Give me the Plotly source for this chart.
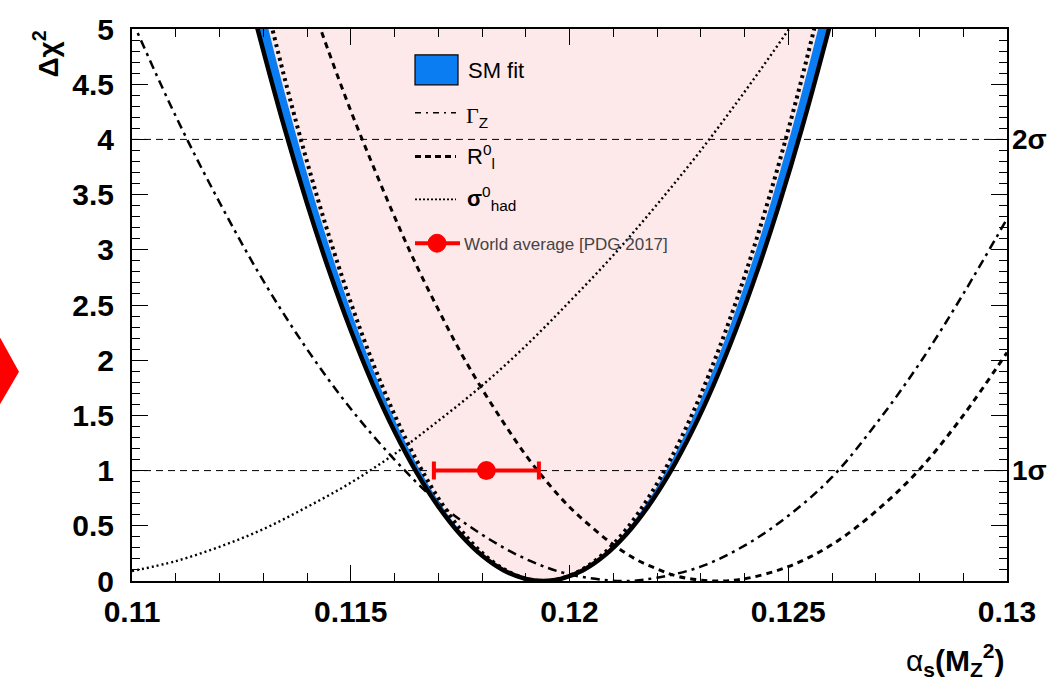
import plotly.graph_objects as go

# ---------------- data ----------------
sm_x = [0.1127, 0.1129, 0.1135, 0.1140, 0.1145, 0.1150, 0.1155, 0.1160, 0.1165, 0.1170,
        0.1175, 0.1180, 0.1185, 0.1190, 0.1194, 0.1198, 0.1203, 0.1208, 0.1213, 0.1218,
        0.1223, 0.1228, 0.1233, 0.1238, 0.1243, 0.1248, 0.1253, 0.1259, 0.1261]
sm_outer = [5.265, 4.955, 4.083, 3.420, 2.816, 2.271, 1.784, 1.356, 0.986, 0.676,
            0.423, 0.230, 0.095, 0.019, 0.0, 0.019, 0.095, 0.230, 0.423, 0.676,
            0.986, 1.356, 1.784, 2.271, 2.816, 3.420, 4.083, 4.955, 5.265]
sm_inner = [5.685, 5.351, 4.408, 3.693, 3.041, 2.452, 1.926, 1.464, 1.065, 0.729,
            0.457, 0.248, 0.103, 0.020, 0.0, 0.020, 0.103, 0.248, 0.457, 0.729,
            1.065, 1.464, 1.926, 2.452, 3.041, 3.693, 4.408, 5.351, 5.685]
sm_dotted = [5.850, 5.506, 4.537, 3.800, 3.129, 2.523, 1.982, 1.507, 1.096, 0.751,
             0.470, 0.255, 0.106, 0.021, 0.0, 0.021, 0.106, 0.255, 0.470, 0.751,
             1.096, 1.507, 1.982, 2.523, 3.129, 3.800, 4.537, 5.506, 5.850]

gz_x = [0.1100, 0.1110, 0.1120, 0.1130, 0.1140, 0.1150, 0.1160, 0.1170, 0.1180, 0.1190,
        0.1200, 0.1212, 0.1220, 0.1230, 0.1240, 0.1250, 0.1260, 0.1270, 0.1280, 0.1290, 0.1300]
gz_chi2 = [5.08, 4.21, 3.43, 2.72, 2.10, 1.56, 1.10, 0.71, 0.42, 0.20,
           0.06, 0.0, 0.03, 0.13, 0.32, 0.59, 0.94, 1.42, 1.97, 2.60, 3.28]

rl_x = [0.1140, 0.1145, 0.1150, 0.1155, 0.1160, 0.1165, 0.1170, 0.1175, 0.1180, 0.1185,
        0.1190, 0.1195, 0.1200, 0.1205, 0.1210, 0.1215, 0.1220, 0.1225, 0.1233, 0.1240,
        0.1250, 0.1260, 0.1270, 0.1280, 0.1290, 0.1300]
rl_chi2 = [5.35, 4.79, 4.26, 3.77, 3.30, 2.86, 2.46, 2.08, 1.74, 1.43,
           1.14, 0.89, 0.67, 0.49, 0.33, 0.20, 0.11, 0.04, 0.0, 0.02,
           0.13, 0.33, 0.63, 1.01, 1.50, 2.07]

sh_x = [0.1100, 0.1110, 0.1120, 0.1130, 0.1140, 0.1150, 0.1160, 0.1170, 0.1180, 0.1190,
        0.1200, 0.1210, 0.1220, 0.1230, 0.1240, 0.1250, 0.1260]
sh_chi2 = [0.09, 0.18, 0.31, 0.47, 0.67, 0.89, 1.15, 1.45, 1.77, 2.13,
           2.53, 2.95, 3.41, 3.90, 4.43, 4.99, 5.58]

wa_x = [0.1181]
wa_y = [1.0]
wa_err = [0.0012]

sigma_levels = [1, 4]
sigma_labels = ["1σ", "2σ"]

x_range = [0.11, 0.13]
y_range = [0, 5]

# ---------------- layout helpers (pixel -> paper) ----------------
ML, MR, MT, MB = 132, 45, 27, 102
W, H = 1052, 683
PW, PH = W - ML - MR, H - MT - MB


def fx(px):
    return (px - ML) / PW


def fy(py):
    return (H - MB - py) / PH


BLUE = "#0a7df2"
PINK = "#fde9e9"
FONT = "Liberation Sans"

fig = go.Figure()

# pink region inside SM parabola
fig.add_trace(go.Scatter(x=sm_x, y=sm_outer, mode="lines", fill="toself",
                         fillcolor=PINK, line=dict(width=0), hoverinfo="skip",
                         showlegend=False))

# sigma reference lines
for lvl in sigma_levels:
    fig.add_trace(go.Scatter(x=x_range, y=[lvl, lvl], mode="lines",
                             line=dict(color="black", width=1, dash="7px,5px"),
                             showlegend=False, hoverinfo="skip"))

# individual observables
fig.add_trace(go.Scatter(x=sh_x, y=sh_chi2, mode="lines", line_shape="spline",
                         line=dict(color="black", width=2.4, dash="2px,3px"),
                         showlegend=False))
fig.add_trace(go.Scatter(x=gz_x, y=gz_chi2, mode="lines", line_shape="spline",
                         line=dict(color="black", width=2.5, dash="9px,5px,3px,5px"),
                         showlegend=False))
fig.add_trace(go.Scatter(x=rl_x, y=rl_chi2, mode="lines", line_shape="spline",
                         line=dict(color="black", width=3, dash="6px,5px"),
                         showlegend=False))

# SM fit band
band_x = sm_x + sm_x[::-1]
band_y = sm_outer + sm_inner[::-1]
fig.add_trace(go.Scatter(x=band_x, y=band_y, mode="lines", fill="toself",
                         fillcolor=BLUE, line=dict(width=0, shape="spline"),
                         hoverinfo="skip", showlegend=False))
fig.add_trace(go.Scatter(x=sm_x, y=sm_dotted, mode="lines", line_shape="spline",
                         line=dict(color="black", width=4, dash="3px,4px"),
                         showlegend=False))
fig.add_trace(go.Scatter(x=sm_x, y=sm_outer, mode="lines", line_shape="spline",
                         line=dict(color="black", width=4.5), showlegend=False))

# world average
fig.add_trace(go.Scatter(x=wa_x, y=wa_y, mode="markers",
                         marker=dict(color="red", size=19),
                         error_x=dict(type="data", array=wa_err, color="red",
                                      thickness=4, width=9),
                         showlegend=False))

shapes = []
annotations = []

# legend (custom)
shapes.append(dict(type="rect", xref="paper", yref="paper",
                   x0=fx(415), x1=fx(458), y0=fy(83), y1=fy(53),
                   fillcolor=BLUE, line=dict(color="black", width=1.2)))
shapes.append(dict(type="line", xref="paper", yref="paper",
                   x0=fx(415), x1=fx(456), y0=fy(111), y1=fy(111),
                   line=dict(color="black", width=1.5, dash="6px,5px,2px,5px")))
shapes.append(dict(type="line", xref="paper", yref="paper",
                   x0=fx(415), x1=fx(456), y0=fy(155), y1=fy(155),
                   line=dict(color="black", width=3, dash="6px,4px")))
shapes.append(dict(type="line", xref="paper", yref="paper",
                   x0=fx(415), x1=fx(456), y0=fy(198), y1=fy(198),
                   line=dict(color="black", width=1.8, dash="2px,2px")))
shapes.append(dict(type="line", xref="paper", yref="paper",
                   x0=fx(415), x1=fx(460), y0=fy(242), y1=fy(242),
                   line=dict(color="red", width=4)))
shapes.append(dict(type="circle", xref="paper", yref="paper",
                   x0=fx(428), x1=fx(446), y0=fy(251), y1=fy(233),
                   fillcolor="red", line=dict(color="red", width=1)))

annotations += [
    dict(text="SM fit", x=fx(466), y=fy(69), xref="paper", yref="paper",
         xanchor="left", yanchor="middle", showarrow=False,
         font=dict(family=FONT, size=22, color="black")),
    dict(text="<span style='font-family:Liberation Serif'>Γ</span><sub>Z</sub>",
         x=fx(464), y=fy(115), xref="paper", yref="paper",
         xanchor="left", yanchor="middle", showarrow=False,
         font=dict(family=FONT, size=22, color="black")),
    dict(text="R<sup>0</sup><sub>l</sub>", x=fx(465), y=fy(155), xref="paper", yref="paper",
         xanchor="left", yanchor="middle", showarrow=False,
         font=dict(family=FONT, size=22, color="black")),
    dict(text="<b>σ</b><sup>0</sup><sub>had</sub>", x=fx(465), y=fy(197), xref="paper",
         yref="paper", xanchor="left", yanchor="middle", showarrow=False,
         font=dict(family=FONT, size=22, color="black")),
    dict(text="World average [PDG 2017]", x=fx(462), y=fy(243), xref="paper",
         yref="paper", xanchor="left", yanchor="middle", showarrow=False,
         font=dict(family=FONT, size=17, color="#444444")),
]

# sigma labels on the right
for lvl, lab in zip(sigma_levels, sigma_labels):
    annotations.append(dict(text="<b>%s</b>" % lab, x=fx(1010), y=lvl, xref="paper",
                            yref="y", xanchor="left", yanchor="middle", showarrow=False,
                            font=dict(family=FONT, size=28, color="black")))

# axis titles
annotations.append(dict(text="<b>Δχ<sup>2</sup></b>", x=fx(46), y=1.0, xref="paper",
                        yref="paper", xanchor="center", yanchor="top", textangle=-90,
                        showarrow=False, font=dict(family=FONT, size=28, color="black")))
annotations.append(dict(text="α<sub><b>s</b></sub><b>(M<sub>Z</sub><sup>2</sup>)</b>",
                        x=1.0, y=fy(660), xref="paper", yref="paper",
                        xanchor="right", yanchor="middle", showarrow=False,
                        font=dict(family=FONT, size=30, color="black")))

# red arrow on the left edge
shapes.append(dict(type="path", xref="paper", yref="paper",
                   path="M %f,%f L %f,%f L %f,%f Z" % (fx(-2), fy(333), fx(19), fy(371),
                                                       fx(-2), fy(407)),
                   fillcolor="red", line=dict(width=0)))

fig.update_layout(
    width=W, height=H,
    margin=dict(l=ML, r=MR, t=MT, b=MB),
    paper_bgcolor="white", plot_bgcolor="white",
    shapes=shapes, annotations=annotations, showlegend=False,
    xaxis=dict(range=x_range, dtick=0.005, tick0=0.11, ticks="inside", ticklen=16,
               tickwidth=1.2, tickcolor="black", showline=True, linecolor="black",
               linewidth=2, mirror="ticks", showgrid=False, zeroline=False,
               tickfont=dict(family=FONT, size=30, color="black", weight="bold"),
               ticklabelstandoff=3,
               minor=dict(dtick=0.001, ticks="inside", ticklen=8, tickcolor="black",
                          tickwidth=1.2, showgrid=False)),
    yaxis=dict(range=y_range, dtick=0.5, tick0=0, ticks="inside", ticklen=16,
               tickwidth=1.2, tickcolor="black", showline=True, linecolor="black",
               linewidth=2, mirror="ticks", showgrid=False, zeroline=False,
               tickfont=dict(family=FONT, size=30, color="black", weight="bold"),
               ticklabelstandoff=10,
               minor=dict(dtick=0.1, ticks="inside", ticklen=8, tickcolor="black",
                          tickwidth=1.2, showgrid=False)),
)

fig.write_html("out.html")
